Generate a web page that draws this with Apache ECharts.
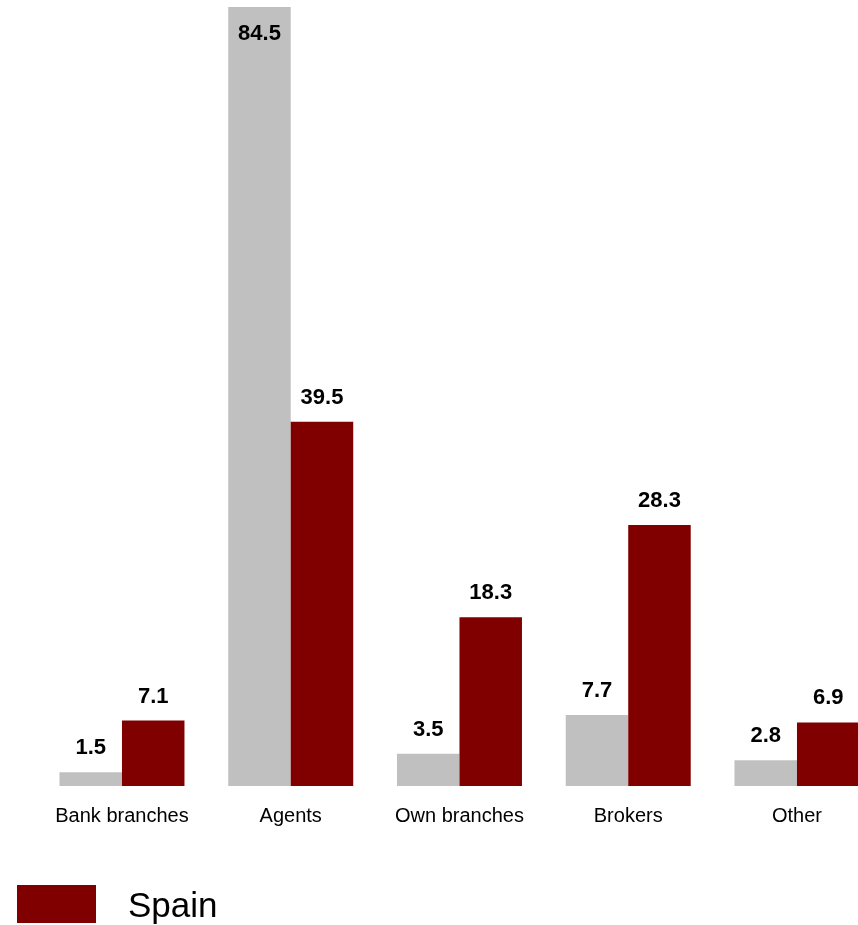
<!DOCTYPE html>
<html>
<head>
<meta charset="utf-8">
<script src="https://cdn.jsdelivr.net/npm/echarts@6/dist/echarts.min.js"></script>
<style>
  html, body { margin: 0; padding: 0; background: #ffffff; }
  #chart { width: 858px; height: 925px; }
</style>
</head>
<body>
<div id="chart"></div>
<script>
// Distribution channels: share of premiums (%)
const categories = ['Bank branches', 'Agents', 'Own branches', 'Brokers', 'Other'];
const comparisonValues = [1.5, 84.5, 3.5, 7.7, 2.8];
const spainValues = [7.1, 39.5, 18.3, 28.3, 6.9];

const labelFont = {
  fontFamily: 'Liberation Sans, Arial, sans-serif',
  fontWeight: 'bold',
  fontSize: 22,
  color: '#000000'
};

// The tallest bar carries its label inside, at the top
const tallest = Math.max(...comparisonValues);
const comparisonData = comparisonValues.map(v => v === tallest
  ? { value: v, label: { position: 'insideTop', distance: 16 } }
  : v);

const chart = echarts.init(document.getElementById('chart'));
chart.setOption({
  animation: false,
  backgroundColor: '#ffffff',
  grid: {
    left: 37.6,
    top: 7,
    bottom: 139,
    width: 843.75,
    outerBoundsMode: 'none'
  },
  legend: {
    data: ['Spain'],
    left: 17,
    top: 885,
    padding: 0,
    itemWidth: 79,
    itemHeight: 38,
    icon: 'rect',
    selectedMode: false,
    formatter: name => '{t|' + name + '}',
    textStyle: {
      rich: {
        t: {
          fontFamily: 'Liberation Sans, Arial, sans-serif',
          fontSize: 35,
          color: '#000000',
          padding: [7, 0, 0, 27]
        }
      }
    }
  },
  xAxis: {
    type: 'category',
    data: categories,
    axisLine: { show: false },
    axisTick: { show: false },
    axisLabel: {
      interval: 0,
      margin: 20,
      fontFamily: 'Liberation Sans, Arial, sans-serif',
      fontSize: 20,
      color: '#000000'
    }
  },
  yAxis: {
    type: 'value',
    min: 0,
    max: 84.5,
    show: false,
    splitLine: { show: false }
  },
  series: [
    {
      name: 'Comparison',
      type: 'bar',
      data: comparisonData,
      barWidth: 62.5,
      barGap: '0%',
      itemStyle: { color: '#C0C0C0' },
      label: Object.assign({ show: true, position: 'top', distance: 13 }, labelFont)
    },
    {
      name: 'Spain',
      type: 'bar',
      data: spainValues,
      barWidth: 62.5,
      barGap: '0%',
      itemStyle: { color: '#800000' },
      label: Object.assign({ show: true, position: 'top', distance: 13 }, labelFont)
    }
  ]
});
</script>
</body>
</html>
